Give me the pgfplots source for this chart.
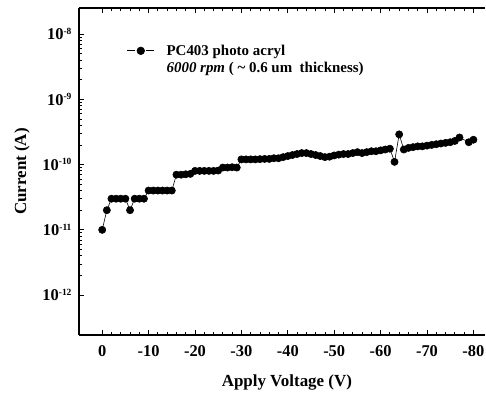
\documentclass[border=0pt]{standalone}
\usepackage{fontspec}
\setmainfont{Liberation Serif}
\usepackage{pgfplots}
\pgfplotsset{compat=1.18}
\newcommand{\pw}[1]{\textbf{10}\raisebox{5.5bp}{\fontsize{9.5}{9.5}\selectfont\bfseries #1}}
\begin{document}
\begin{tikzpicture}[x=1bp,y=1bp]
\path[use as bounding box] (0,0) rectangle (486,394);
\begin{axis}[
  at={(79bp,59bp)}, anchor=south west,
  scale only axis, width=406bp, height=327bp,
  ymode=log, x dir=reverse,
  xmin=-82.5, xmax=5,
  ymin=2.45e-13, ymax=2.5e-8,
  xtick={0,-10,-20,-30,-40,-50,-60,-70,-80},
  xticklabels={0,-10,-20,-30,-40,-50,-60,-70,-80},
  minor x tick num=4,
  ytick={1e-12,1e-11,1e-10,1e-9,1e-8},
  yticklabels={{\pw{-12}},{\pw{-11}},{\pw{-10}},{\pw{-9}},{\pw{-8}}},
  tick align=inside, xtick pos=both, ytick pos=left,
  major tick length=5bp, minor tick length=3bp,
  axis line style={line width=1.2pt}, axis x line*=box, axis y line*=left,
  every tick/.style={black, line width=0.8pt},
  ticklabel style={font=\fontsize{16.5}{16.5}\selectfont\bfseries},
  xticklabel style={yshift=-7bp},
  yticklabel style={xshift=-4bp},
  xlabel={\textbf{Apply Voltage (V)}},
  ylabel={\textbf{Current (A)}},
  label style={font=\fontsize{17}{17}\selectfont},
  xlabel style={at={(axis description cs:0.512,-0.146)}, anchor=center},
  ylabel style={at={(axis description cs:-0.140,0.5)}, anchor=center},
  legend style={draw=none, fill=none, at={(0.11,0.90)}, anchor=north west,
    font=\fontsize{15}{18}\selectfont\bfseries, legend cell align=left,
    row sep=1bp},
  legend image code/.code={\draw[black, line width=0.9pt] (0bp,0bp) -- (8bp,0bp) (19bp,0bp) -- (27bp,0bp); \fill[black] (13.5bp,0bp) circle (3.8bp); \path (37bp,0bp);},
]
\addplot[black, line width=0.6pt, mark=*, mark size=3.6bp, mark options={fill=black}] coordinates {
(0,1.0e-11) (-1,2.0e-11) (-2,3.0e-11) (-3,3.0e-11) (-4,3.0e-11) (-5,3.0e-11)
(-6,2.0e-11) (-7,3.0e-11) (-8,3.0e-11) (-9,3.0e-11)
(-10,4.0e-11) (-11,4.0e-11) (-12,4.0e-11) (-13,4.0e-11) (-14,4.0e-11) (-15,4.0e-11)
(-16,7.0e-11) (-17,7.0e-11) (-18,7.1e-11) (-19,7.2e-11)
(-20,8.0e-11) (-21,8.0e-11) (-22,8.0e-11) (-23,8.0e-11) (-24,8.0e-11) (-25,8.1e-11)
(-26,9.0e-11) (-27,9.0e-11) (-28,9.1e-11) (-29,9.0e-11)
(-30,1.2e-10) (-31,1.2e-10) (-32,1.2e-10) (-33,1.2e-10) (-34,1.21e-10) (-35,1.22e-10)
(-36,1.22e-10) (-37,1.25e-10) (-38,1.25e-10) (-39,1.3e-10) (-40,1.35e-10)
(-41,1.4e-10) (-42,1.45e-10) (-43,1.5e-10) (-44,1.5e-10) (-45,1.45e-10)
(-46,1.4e-10) (-47,1.35e-10) (-48,1.3e-10) (-49,1.32e-10) (-50,1.38e-10)
(-51,1.42e-10) (-52,1.45e-10) (-53,1.45e-10) (-54,1.5e-10) (-55,1.55e-10)
(-56,1.5e-10) (-57,1.55e-10) (-58,1.6e-10) (-59,1.6e-10) (-60,1.65e-10)
(-61,1.7e-10) (-62,1.75e-10) (-63,1.1e-10) (-64,2.9e-10) (-65,1.7e-10)
(-66,1.8e-10) (-67,1.85e-10) (-68,1.9e-10) (-69,1.9e-10) (-70,1.95e-10)
(-71,2.0e-10) (-72,2.05e-10) (-73,2.1e-10) (-74,2.15e-10) (-75,2.2e-10)
(-76,2.3e-10) (-77,2.6e-10) (-79,2.2e-10) (-80,2.4e-10)
};
\addlegendentry{PC403 photo acryl}
\addlegendimage{draw=none, legend image code/.code={\path[draw=none] (0bp,0bp) -- (37bp,0bp);}}
\addlegendentry{\textit{6000 rpm} ( \textasciitilde\ 0.6 um\ \ thickness)}
\end{axis}
\end{tikzpicture}
\end{document}
